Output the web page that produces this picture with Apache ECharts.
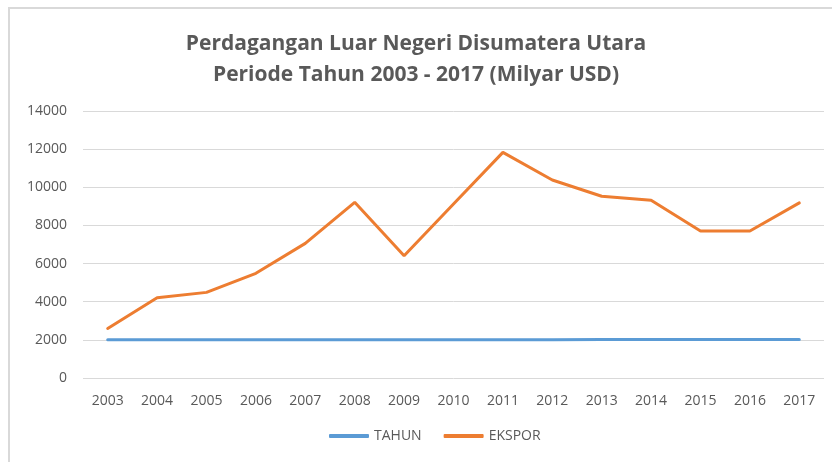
<!DOCTYPE html>
<html>
<head>
<meta charset="utf-8">
<script src="https://cdn.jsdelivr.net/npm/echarts@6/dist/echarts.min.js"></script>
<style>
  html, body { margin: 0; padding: 0; background: #fff; }
  #chart { width: 832px; height: 462px; }
</style>
</head>
<body>
<div id="chart"></div>
<script>
// data
var years = ['2003', '2004', '2005', '2006', '2007', '2008', '2009', '2010',
  '2011', '2012', '2013', '2014', '2015', '2016', '2017'];
var tahun = [2003, 2004, 2005, 2006, 2007, 2008, 2009, 2010,
  2011, 2012, 2013, 2014, 2015, 2016, 2017];
var ekspor = [2600, 4210, 4490, 5490, 7060, 9210, 6410, 9120,
  11830, 10380, 9530, 9320, 7710, 7710, 9180];
var titleLines = ['Perdagangan Luar Negeri Disumatera Utara', 'Periode Tahun 2003 - 2017 (Milyar USD)'];

var font = 'Open Sans';
var myChart = echarts.init(document.getElementById('chart'));

myChart.setOption({
  animation: false,
  color: ['#5b9bd5', '#ed7d31'],
  // light frame around the chart area
  graphic: [{
    type: 'rect',
    shape: { x: 9, y: 8, width: 900, height: 500 },
    style: { fill: 'none', stroke: '#d9d9d9', lineWidth: 2 },
    silent: true
  }],
  title: {
    text: titleLines.join('\n'),
    left: 'center',
    top: 24,
    textStyle: {
      fontFamily: font,
      fontSize: 21,
      fontWeight: 'bold',
      color: '#595959',
      lineHeight: 31
    }
  },
  legend: {
    bottom: 14,
    left: 324,
    itemWidth: 40,
    itemHeight: 4,
    itemGap: 22,
    icon: 'roundRect',
    textStyle: { fontFamily: font, fontSize: 14, color: '#595959' },
    data: ['TAHUN', 'EKSPOR']
  },
  grid: {
    left: 83,
    right: 8,
    top: 111,
    bottom: 84
  },
  xAxis: {
    type: 'category',
    data: years,
    boundaryGap: true,
    axisLine: { show: false },
    axisTick: { show: false },
    axisLabel: {
      fontFamily: font,
      fontSize: 14,
      color: '#595959',
      margin: 16
    }
  },
  yAxis: {
    type: 'value',
    min: 0,
    max: 14000,
    interval: 2000,
    axisLine: { show: false },
    axisTick: { show: false },
    axisLabel: {
      fontFamily: font,
      fontSize: 14,
      color: '#595959',
      margin: 16,
      formatter: function (v) { return String(v); }
    },
    splitLine: { lineStyle: { color: '#d9d9d9', width: 1 } }
  },
  series: [
    {
      name: 'TAHUN',
      type: 'line',
      data: tahun,
      symbol: 'none',
      lineStyle: { width: 3, color: '#5b9bd5', cap: 'round' }
    },
    {
      name: 'EKSPOR',
      type: 'line',
      data: ekspor,
      symbol: 'none',
      lineStyle: { width: 3, color: '#ed7d31', cap: 'round' }
    }
  ]
});
</script>
</body>
</html>
